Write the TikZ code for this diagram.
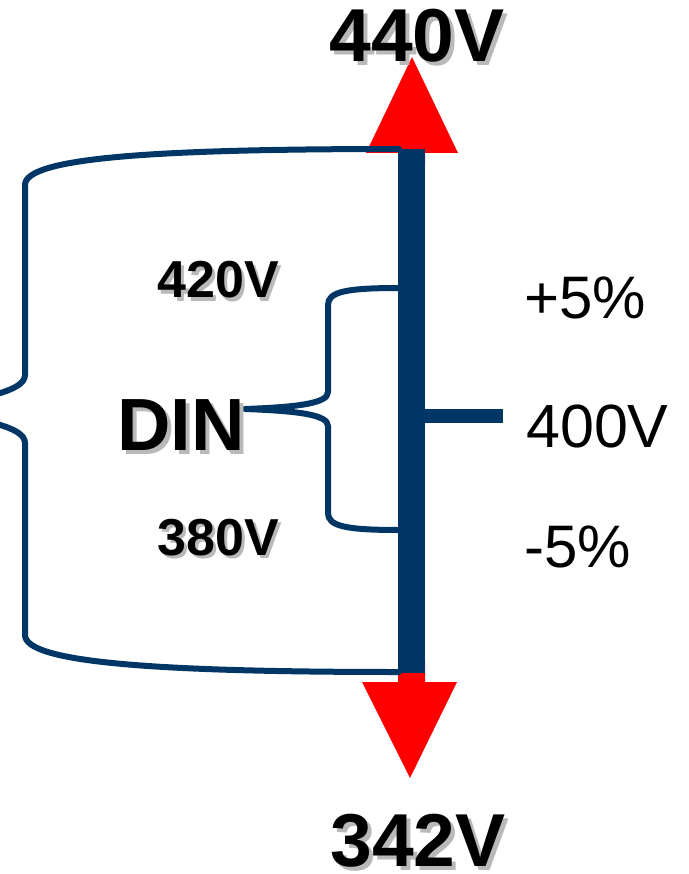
\documentclass[tikz,border=0pt]{standalone}
\usepackage{fontspec}
\setmainfont{Liberation Sans}
\definecolor{barblue}{RGB}{0,54,102}
\definecolor{shadowgray}{RGB}{185,185,185}
\newcommand{\shadowed}[2]{\makebox[0pt][l]{\hspace{#1}\raisebox{-#1}{\textcolor{shadowgray}{#2}}}#2}

\begin{document}
\begin{tikzpicture}[x=1pt, y=-1pt,
    bold label/.style={font=\bfseries\fontsize{#1}{#1}\selectfont, inner sep=0pt, anchor=base},
    plain label/.style={font=\fontsize{#1}{#1}\selectfont, inner sep=0pt, anchor=base west},
    brace/.style={barblue, line width=6pt, line cap=round, line join=round}]

    % --- FRAME ---
    \useasboundingbox (0,0) rectangle (688,874);
    \clip (0,0) rectangle (688,874);

    % --- PARAMETERS ---
    \def\xBar{411.5}
    \coordinate (bartop) at (\xBar,149);
    \coordinate (barbot) at (\xBar,673);
    \coordinate (nominal) at (\xBar,416);
    \coordinate (tickend) at (503,416);

    % --- RED ARROWS ---
    \fill[red] (398,165) -- (398,153) -- (366,153) -- (412,57) -- (458,153) -- (425,153) -- (425,165) -- cycle;
    \fill[red] (398,660) -- (398,682) -- (362,682) -- (410,778) -- (457,682) -- (425,682) -- (425,660) -- cycle;

    % --- BRACES ---
    % outer: 440V .. 342V
    \draw[brace] (399,149) .. controls (150,149) and (25,158) .. (25,185)
        -- (25,375) .. controls (25,392) and (-20,398) .. (-70,409)
        .. controls (-20,420) and (25,426) .. (25,443)
        -- (25,635) .. controls (25,662) and (150,672) .. (399,672);
    % inner: 420V .. 380V (DIN)
    \draw[brace] (399,288) .. controls (345,288) and (328,292) .. (328,305)
        -- (328,392) .. controls (328,403) and (300,407) .. (245,409)
        .. controls (300,411) and (328,415) .. (328,426)
        -- (328,513) .. controls (328,526) and (345,530) .. (399,530);

    % --- BAR ---
    \draw[barblue, line width=27pt] (bartop) -- (barbot);
    \draw[barblue, line width=14pt] (nominal) -- (tickend);

    % --- BOLD LABELS (with shadow) ---
    \node[bold label=75] (top) at (417,62) {\shadowed{4pt}{440V}};
    \node[bold label=75] (bot) at (418,866) {\shadowed{4pt}{342V}};
    \node[bold label=52] (upper) at (218,298) {\shadowed{3pt}{420V}};
    \node[bold label=52] (lower) at (218,555) {\shadowed{3pt}{380V}};
    \node[bold label=74] (din) at (181,450) {\shadowed{4pt}{DIN}};

    % --- PLAIN LABELS ---
    \node[plain label=60] (plus) at (524,318) {+5\%};
    \node[plain label=61] (nom) at (526,447) {400V};
    \node[plain label=60] (minus) at (524,567) {-5\%};

\end{tikzpicture}
\end{document}
